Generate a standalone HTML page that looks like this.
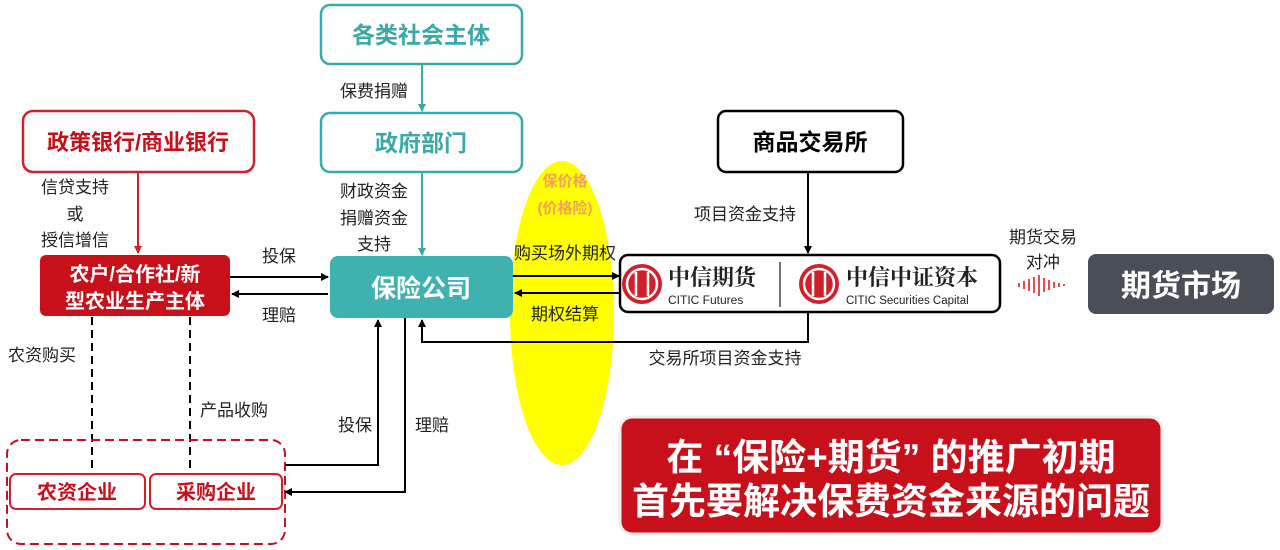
<!DOCTYPE html>
<html><head><meta charset="utf-8"><style>
body{margin:0;background:#fff;}
svg{display:block;font-family:"Liberation Sans","Noto Sans CJK SC",sans-serif;}
</style></head><body>
<svg width="1280" height="550" viewBox="0 0 1280 550" xmlns="http://www.w3.org/2000/svg">
<defs>
<marker id="ak" markerWidth="8" markerHeight="8" refX="7" refY="4" orient="auto" markerUnits="userSpaceOnUse"><path d="M0,0 L8,4 L0,8 z" fill="#000"/></marker>
<marker id="at" markerWidth="8" markerHeight="8" refX="7" refY="4" orient="auto" markerUnits="userSpaceOnUse"><path d="M0,0 L8,4 L0,8 z" fill="#3aa9a8"/></marker>
<marker id="ar" markerWidth="8" markerHeight="8" refX="7" refY="4" orient="auto" markerUnits="userSpaceOnUse"><path d="M0,0 L8,4 L0,8 z" fill="#d0202a"/></marker>
</defs>
<ellipse cx="562" cy="313" rx="52" ry="152" fill="#ffff00"/>
<rect x="321" y="5" width="201" height="59" rx="9" fill="#fff" stroke="#3aa9a8" stroke-width="2.5"/>
<text x="421" y="43" font-size="23" font-weight="bold" fill="#3aa9a8" text-anchor="middle">各类社会主体</text>
<rect x="321" y="113" width="201" height="59" rx="9" fill="#fff" stroke="#3aa9a8" stroke-width="2.5"/>
<text x="421" y="151" font-size="23" font-weight="bold" fill="#3aa9a8" text-anchor="middle">政府部门</text>
<line x1="422" y1="64" x2="422" y2="111" stroke="#3aa9a8" stroke-width="2" marker-end="url(#at)"/>
<text x="374" y="97" font-size="17" text-anchor="middle" fill="#222">保费捐赠</text>
<line x1="422" y1="172" x2="422" y2="255" stroke="#3aa9a8" stroke-width="2" marker-end="url(#at)"/>
<g font-size="17" text-anchor="middle" fill="#222">
<text x="374" y="197">财政资金</text><text x="374" y="224">捐赠资金</text><text x="374" y="250">支持</text></g>
<rect x="330" y="256" width="183" height="62" rx="8" fill="#3fb2b0"/>
<text x="421" y="297" font-size="25" font-weight="bold" fill="#fff" text-anchor="middle">保险公司</text>
<rect x="23" y="111" width="231" height="61" rx="10" fill="#fff" stroke="#d0202a" stroke-width="2.5"/>
<text x="138" y="150" font-size="22" font-weight="bold" fill="#c8101a" text-anchor="middle">政策银行/商业银行</text>
<line x1="138" y1="172" x2="138" y2="253" stroke="#d0202a" stroke-width="2" marker-end="url(#ar)"/>
<g font-size="17" text-anchor="middle" fill="#222">
<text x="75" y="193">信贷支持</text><text x="75" y="220">或</text><text x="75" y="246">授信增信</text></g>
<rect x="40" y="255" width="190" height="61" rx="6" fill="#c8101a"/>
<text x="135" y="281" font-size="20" font-weight="bold" fill="#fff" text-anchor="middle">农户/合作社/新</text>
<text x="135" y="308" font-size="20" font-weight="bold" fill="#fff" text-anchor="middle">型农业生产主体</text>
<line x1="230" y1="277" x2="328" y2="277" stroke="#000" stroke-width="2" marker-end="url(#ak)"/>
<line x1="328" y1="294" x2="232" y2="294" stroke="#000" stroke-width="2" marker-end="url(#ak)"/>
<text x="279" y="262" font-size="17" text-anchor="middle" fill="#222">投保</text>
<text x="279" y="321" font-size="17" text-anchor="middle" fill="#222">理赔</text>
<text x="565" y="186" font-size="15" font-weight="bold" fill="#f5a05a" text-anchor="middle">保价格</text>
<text x="565" y="213" font-size="15" font-weight="bold" fill="#f5a05a" text-anchor="middle">(价格险)</text>
<text x="565" y="259" font-size="17" text-anchor="middle" fill="#222">购买场外期权</text>
<line x1="513" y1="276" x2="619" y2="276" stroke="#000" stroke-width="2" marker-end="url(#ak)"/>
<line x1="619" y1="293" x2="515" y2="293" stroke="#000" stroke-width="2" marker-end="url(#ak)"/>
<text x="565" y="320" font-size="17" text-anchor="middle" fill="#222">期权结算</text>
<rect x="718" y="111" width="185" height="61" rx="8" fill="#fff" stroke="#000" stroke-width="2.5"/>
<text x="810" y="150" font-size="23" font-weight="bold" fill="#000" text-anchor="middle">商品交易所</text>
<line x1="808" y1="172" x2="808" y2="253" stroke="#000" stroke-width="2" marker-end="url(#ak)"/>
<text x="745" y="220" font-size="17" text-anchor="middle" fill="#222">项目资金支持</text>
<rect x="620" y="255" width="380" height="57" rx="8" fill="#fff" stroke="#000" stroke-width="2.5"/>
<circle cx="642" cy="284" r="20" fill="#d0202a"/>
<g stroke="#fff" stroke-width="2.5" fill="none"><circle cx="642" cy="284" r="15"/><line x1="636" y1="272" x2="636" y2="296"/><line x1="648" y1="272" x2="648" y2="296"/></g>
<text x="668" y="285" font-size="22" font-weight="bold" font-family="'Noto Serif CJK SC',serif" fill="#222">中信期货</text>
<text x="668" y="304" font-size="12" fill="#222">CITIC Futures</text>
<line x1="780" y1="262" x2="780" y2="307" stroke="#444" stroke-width="1.5"/>
<circle cx="819" cy="284" r="20" fill="#d0202a"/>
<g stroke="#fff" stroke-width="2.5" fill="none"><circle cx="819" cy="284" r="15"/><line x1="813" y1="272" x2="813" y2="296"/><line x1="825" y1="272" x2="825" y2="296"/></g>
<text x="846" y="285" font-size="22" font-weight="bold" font-family="'Noto Serif CJK SC',serif" fill="#222">中信中证资本</text>
<text x="846" y="304" font-size="11.5" fill="#222">CITIC Securities Capital</text>
<polyline points="808,312 808,342 422,342 422,320" fill="none" stroke="#000" stroke-width="2" marker-end="url(#ak)"/>
<text x="725" y="364" font-size="17" text-anchor="middle" fill="#222">交易所项目资金支持</text>
<text x="1043" y="243" font-size="17" text-anchor="middle" fill="#222">期货交易</text>
<text x="1043" y="268" font-size="17" text-anchor="middle" fill="#222">对冲</text>
<g stroke="#e84a4a" stroke-width="2">
<line x1="1019" y1="283" x2="1019" y2="287"/><line x1="1024" y1="281" x2="1024" y2="289"/><line x1="1029" y1="279" x2="1029" y2="291"/><line x1="1034" y1="277" x2="1034" y2="293"/><line x1="1039" y1="275" x2="1039" y2="296"/><line x1="1044" y1="278" x2="1044" y2="292"/><line x1="1049" y1="280" x2="1049" y2="290"/><line x1="1054" y1="282" x2="1054" y2="288"/><line x1="1059" y1="283" x2="1059" y2="287"/><line x1="1064" y1="284" x2="1064" y2="286"/></g>
<rect x="1088" y="254" width="186" height="60" rx="8" fill="#4a4f57"/>
<text x="1181" y="296" font-size="30" font-weight="bold" fill="#fff" text-anchor="middle">期货市场</text>
<line x1="92" y1="317" x2="92" y2="474" stroke="#000" stroke-width="2" stroke-dasharray="8,5"/>
<line x1="190" y1="317" x2="190" y2="474" stroke="#000" stroke-width="2" stroke-dasharray="8,5"/>
<text x="42" y="361" font-size="17" text-anchor="middle" fill="#222">农资购买</text>
<text x="234" y="416" font-size="17" text-anchor="middle" fill="#222">产品收购</text>
<rect x="7" y="440" width="278" height="104" rx="14" fill="none" stroke="#c8101a" stroke-width="2" stroke-dasharray="9,5"/>
<rect x="10" y="474" width="135" height="35" rx="6" fill="#fff" stroke="#d0202a" stroke-width="2"/>
<text x="77" y="499" font-size="20" font-weight="bold" fill="#c8101a" text-anchor="middle">农资企业</text>
<rect x="150" y="474" width="132" height="35" rx="6" fill="#fff" stroke="#d0202a" stroke-width="2"/>
<text x="216" y="499" font-size="20" font-weight="bold" fill="#c8101a" text-anchor="middle">采购企业</text>
<polyline points="285,465 378,465 378,320" fill="none" stroke="#000" stroke-width="2" marker-end="url(#ak)"/>
<polyline points="405,318 405,492 285,492" fill="none" stroke="#000" stroke-width="2" marker-end="url(#ak)"/>
<text x="355" y="431" font-size="17" text-anchor="middle" fill="#222">投保</text>
<text x="432" y="431" font-size="17" text-anchor="middle" fill="#222">理赔</text>
<rect x="620" y="417" width="542" height="117" rx="12" fill="#c8101a" stroke="#eee" stroke-width="3"/>
<text x="891" y="470" font-size="37" font-weight="bold" fill="#fff" text-anchor="middle">在 “保险+期货” 的推广初期</text>
<text x="891" y="514" font-size="37" font-weight="bold" fill="#fff" text-anchor="middle">首先要解决保费资金来源的问题</text>
</svg>
</body></html>
